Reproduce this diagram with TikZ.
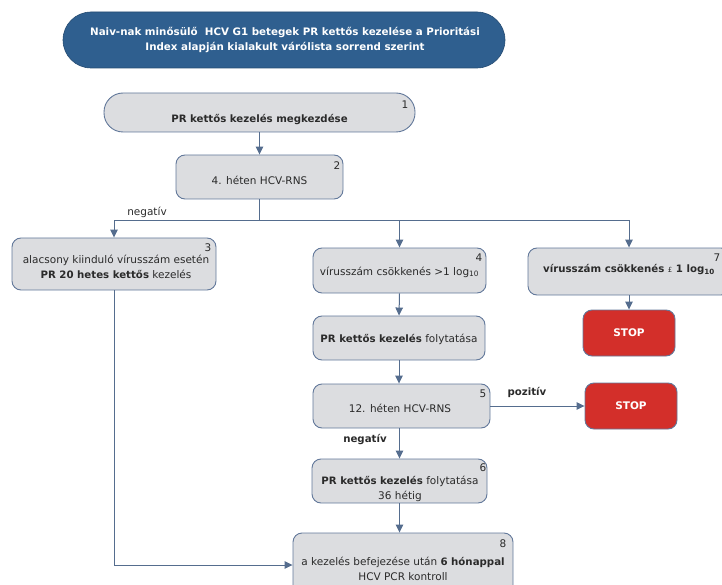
\documentclass[tikz,border=0pt]{standalone}
\usepackage{fontspec}
\setmainfont{DejaVu Sans}
\usetikzlibrary{arrows.meta,positioning}
\definecolor{hdrblue}{HTML}{2F5F8F}
\definecolor{boxfill}{HTML}{DCDDE0}
\definecolor{boxline}{HTML}{62789A}
\definecolor{linec}{HTML}{556D8E}
\definecolor{stopred}{HTML}{D32F2A}
\definecolor{txtc}{HTML}{2A2A2A}
\tikzset{
  box/.style={draw=boxline, fill=boxfill, line width=0.9pt, rounded corners=9pt, inner sep=0pt},
  hdr/.style={fill=hdrblue, draw=hdrblue!80!black, line width=0.6pt, rounded corners=28pt, inner sep=0pt},
  stopbox/.style={draw=boxline, fill=stopred, line width=0.9pt, rounded corners=9pt, inner sep=0pt,
     text=white, font=\fontsize{10.5}{12}\selectfont\bfseries},
  txt/.style={align=center, inner sep=0pt, text=txtc, font=\fontsize{10.5}{14.5}\selectfont},
  bf/.style={font=\fontsize{10.2}{14.5}\selectfont\bfseries},
  num/.style={inner sep=0pt, text=txtc, font=\fontsize{10.5}{12}\selectfont},
  lbl/.style={inner sep=0pt, text=txtc, font=\fontsize{10.5}{12}\selectfont},
  arr/.style={draw=linec, line width=1pt, -{Triangle[length=8pt,width=7.5pt]}},
  ln/.style={draw=linec, line width=1pt}
}
\begin{document}
\begin{tikzpicture}[x=1pt,y=-1pt]
\useasboundingbox (0,0) rectangle (722,585);
\clip (0,0) rectangle (722,585);
% header
\node[hdr, minimum width=442pt, minimum height=56pt] (hdr) at (284,40) {};
\node[txt, text=white, font=\fontsize{10.3}{14.5}\selectfont\bfseries] (hdrt) at (285,40)
  {Naiv-nak minősülő\ \ HCV G1 betegek PR kettős kezelése a Prioritási\\Index alapján kialakult várólista sorrend szerint};
% box 1
\node[box, rounded corners=19pt, minimum width=311pt, minimum height=39pt] (b1) at (259.5,112.5) {};
\node[txt, bf] (b1t) at (259.5,120) {PR kettős kezelés megkezdése};
\node[num] (n1) at (405,105) {1};
% box 2
\node[box, minimum width=167pt, minimum height=44pt] (b2) at (259.5,177) {};
\node[txt] (b2t) at (259.5,180) {4. héten HCV-RNS};
\node[num] (n2) at (337,166) {2};
% box 3
\node[box, minimum width=204pt, minimum height=52pt] (b3) at (114,264) {};
\node[txt] (b3t) at (116,267) {alacsony kiinduló vírusszám esetén\\{\fontsize{10.2}{12}\selectfont\bfseries PR 20 hetes kettős} kezelés};
\node[num] (n3) at (208,248) {3};
% box 4
\node[box, minimum width=173pt, minimum height=45pt] (b4) at (399.5,270.5) {};
\node[txt] (b4t) at (399.5,272) {vírusszám csökkenés >1 log\textsubscript{10}};
\node[num] (n4) at (479,258) {4};
% box 7
\node[box, minimum width=202pt, minimum height=47pt] (b7) at (629,271.5) {};
\node[txt, bf] (b7t) at (629,270) {vírusszám csökkenés {\mdseries\fontsize{7}{8}\selectfont£} 1 log\textsubscript{10}};
\node[num] (n7) at (717,258) {7};
% stop 1
\node[stopbox, minimum width=92pt, minimum height=46pt] (s1) at (629,333) {STOP};
% continue box
\node[box, minimum width=172pt, minimum height=44pt] (bc) at (399,338) {};
\node[txt] (bct) at (399,339) {{\fontsize{10.2}{12}\selectfont\bfseries PR kettős kezelés} folytatása};
% box 5
\node[box, minimum width=177pt, minimum height=44pt] (b5) at (401.5,406) {};
\node[txt] (b5t) at (400,408) {12. héten HCV-RNS};
\node[num] (n5) at (483,394) {5};
% stop 2
\node[stopbox, minimum width=92pt, minimum height=46pt] (s2) at (631,406) {STOP};
% box 6
\node[box, minimum width=175pt, minimum height=44pt] (b6) at (399.5,481) {};
\node[txt] (b6t) at (400,489) {{\fontsize{10.2}{12}\selectfont\bfseries PR kettős kezelés} folytatása\\36 hétig};
\node[num] (n6) at (483,468) {6};
% box 8
\node[box, minimum width=220pt, minimum height=64pt] (b8) at (403,565) {};
\node[txt] (b8t) at (403,569) {a kezelés befejezése után {\fontsize{10.2}{12}\selectfont\bfseries 6 hónappal}\\HCV PCR kontroll};
\node[num] (n8) at (503,544) {8};
% connectors
\coordinate (j) at (259.5,221);
\draw[arr] (b1) -- (b2);
\draw[ln] (b2.south) -- (j);
\draw[arr] (j) -| (b3.north);
\draw[arr] (j) -| (b4.north);
\draw[arr] (j) -| (b7.north);
\node[lbl] (lneg1) at (147,212) {negatív};
\draw[arr] (b7.south) -- (s1.north);
\draw[arr] (b4.south) -- (bc.north);
\draw[arr] (bc.south) -- (b5.north -| bc.south);
\draw[arr] (b5.east) -- (s2.west);
\node[lbl, font=\fontsize{10.2}{12}\selectfont\bfseries] (lpos) at (527,392) {pozitív};
\draw[arr] (b5.south -| b6.north) -- (b6.north);
\node[lbl, font=\fontsize{10.2}{12}\selectfont\bfseries] (lneg2) at (365,440) {negatív};
\draw[arr] (b6.south) -- (b8.north -| b6.south);
\draw[arr] (b3.south) |- (b8.west);
\end{tikzpicture}
\end{document}
